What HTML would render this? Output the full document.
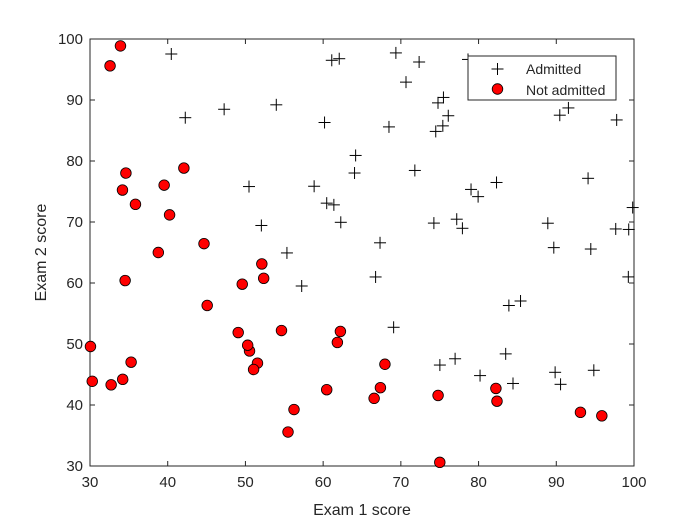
<!DOCTYPE html>
<html><head><meta charset="utf-8"><style>
body{margin:0;background:#fff;width:700px;height:525px;overflow:hidden}
svg text{font-family:"Liberation Sans",Arial,sans-serif;fill:#262626}
</style></head><body>
<svg id="chart" width="700" height="525" xmlns="http://www.w3.org/2000/svg"></svg>
<script>
const xTicks=[30,40,50,60,70,80,90,100];
const yTicks=[30,40,50,60,70,80,90,100];
const exam1=[34.62,30.29,35.85,60.18,79.03,45.08,61.11,75.02,76.10,84.43,95.86,75.01,82.31,69.36,39.54,53.97,69.07,67.95,70.66,76.98,67.37,89.68,50.53,34.21,77.92,62.27,80.19,93.11,61.83,38.79,61.38,85.40,52.11,52.05,40.24,54.64,33.92,64.18,74.79,34.18,83.90,51.55,94.44,82.37,51.05,62.22,77.19,97.77,62.07,91.56,79.94,99.27,90.55,34.52,50.29,49.59,97.65,32.58,74.25,71.80,75.40,35.29,56.25,30.06,44.67,66.56,40.46,49.07,80.28,66.75,32.72,64.04,72.35,60.46,58.84,99.83,47.26,50.46,60.46,82.23,88.91,94.83,67.32,57.24,80.37,68.47,42.08,75.48,78.64,52.35,94.09,90.45,55.48,74.49,89.85,83.49,42.26,99.32,55.34,74.78];
const exam2=[78.02,43.89,72.90,86.31,75.34,56.32,96.51,46.55,87.42,43.53,38.23,30.60,76.48,97.72,76.04,89.21,52.74,46.68,92.93,47.58,42.84,65.80,48.86,44.21,68.97,69.95,44.82,38.80,50.26,65.00,72.81,57.05,63.13,69.43,71.17,52.21,98.87,80.91,41.57,75.24,56.31,46.86,65.57,40.62,45.82,52.06,70.46,86.73,96.77,88.70,74.16,61.00,43.39,60.40,49.80,59.81,68.86,95.60,69.82,78.45,85.76,47.02,39.26,49.59,66.45,41.09,97.54,51.88,92.12,60.99,43.31,78.03,96.23,73.09,75.86,72.37,88.48,75.81,42.51,42.72,69.80,45.69,66.59,59.51,90.96,85.59,78.84,90.42,96.65,60.77,77.16,87.51,35.57,84.85,45.36,48.38,87.10,68.78,64.93,89.53];
const admitted=[0,0,0,1,1,0,1,1,1,1,0,0,1,1,0,1,1,0,1,1,0,1,0,0,1,1,1,0,0,0,1,1,0,1,0,0,0,1,0,0,1,0,1,0,0,0,1,1,1,1,1,1,1,0,0,0,1,0,1,1,1,0,0,0,0,0,1,0,1,1,0,1,1,1,1,1,1,1,0,0,1,1,1,1,1,1,0,1,1,0,1,1,0,1,1,1,1,1,1,1];
const NS="http://www.w3.org/2000/svg";
const svg=document.getElementById('chart');
const L=90,R=634,T=39,B=466;
const xs=v=>L+(v-30)/70*(R-L);
const ys=v=>B-(v-30)/70*(B-T);
function mk(tag,a,parent){const e=document.createElementNS(NS,tag);for(const k in a)e.setAttribute(k,a[k]);(parent||svg).appendChild(e);return e;}
const frame=mk('rect',{x:L,y:T,width:R-L,height:B-T,fill:'#fff',stroke:'#262626','stroke-width':1});


xTicks.forEach(t=>{const x=xs(t);
 mk('line',{x1:x,y1:B,x2:x,y2:B-5,stroke:'#262626'});mk('line',{x1:x,y1:T,x2:x,y2:T+5,stroke:'#262626'});
 const tx=mk('text',{x:x,y:B+21,'text-anchor':'middle','font-size':15});tx.textContent=t;
 
 });
yTicks.forEach(t=>{const y=ys(t);
 mk('line',{x1:L,y1:y,x2:L+5,y2:y,stroke:'#262626'});mk('line',{x1:R,y1:y,x2:R-5,y2:y,stroke:'#262626'});
 const tx=mk('text',{x:L-7,y:y+5,'text-anchor':'end','font-size':15});tx.textContent=t;
 
 });
const xt=mk('text',{x:(L+R)/2,y:515,'text-anchor':'middle','font-size':16});xt.textContent='Exam 1 score';


const yt=mk('text',{x:0,y:0,'text-anchor':'middle','font-size':16,transform:`translate(46,${(T+B)/2}) rotate(-90)`});yt.textContent='Exam 2 score';


function plus(x,y,name){const g=mk('g',{stroke:'#000','stroke-width':1});
 mk('line',{x1:x-6,y1:y,x2:x+6,y2:y},g);mk('line',{x1:x,y1:y-6,x2:x,y2:y+6},g);
 
 return g;}
function dot(x,y,name){const c=mk('circle',{cx:x,cy:y,r:5.3,fill:'#ff0000',stroke:'#000','stroke-width':0.8});
 
 return c;}
exam1.forEach((v,i)=>{if(admitted[i])plus(xs(v),ys(exam2[i]),'admitted-point');});
exam1.forEach((v,i)=>{if(!admitted[i])dot(xs(v),ys(exam2[i]),'not-admitted-point');});
const lg=mk('g',{});


mk('rect',{x:468,y:56,width:148,height:44,fill:'#fff',stroke:'#262626','stroke-width':1},lg);
const p=plus(497.5,69,'legend-admitted-marker');lg.appendChild(p);
const d=dot(497.5,89,'legend-not-admitted-marker');lg.appendChild(d);
const t1=mk('text',{x:526,y:74,'font-size':14,fill:'#000'},lg);t1.textContent='Admitted';


const t2=mk('text',{x:526,y:95,'font-size':14,fill:'#000'},lg);t2.textContent='Not admitted';


</script>
</body></html>
